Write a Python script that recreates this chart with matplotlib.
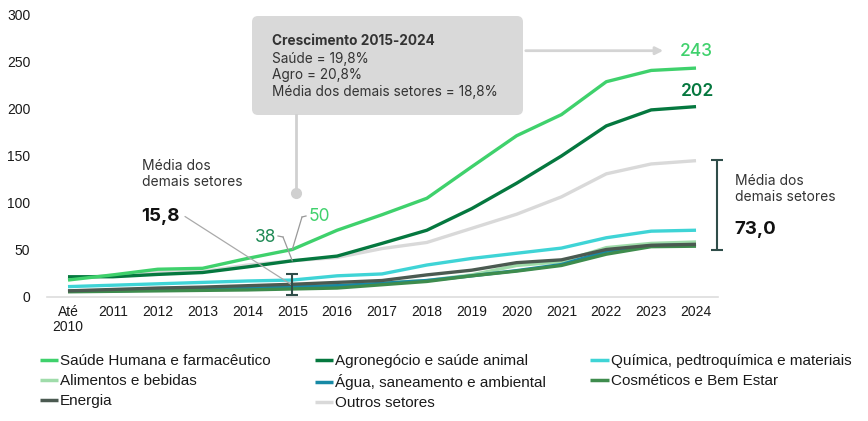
import matplotlib
matplotlib.use("Agg")
import matplotlib.pyplot as plt
from matplotlib.patches import FancyBboxPatch, FancyArrowPatch
from matplotlib.lines import Line2D

# ---------------- data ----------------
years = ["Até\n2010", "2011", "2012", "2013", "2014", "2015", "2016", "2017",
         "2018", "2019", "2020", "2021", "2022", "2023", "2024"]

saude = [17.5, 23, 29, 30, 40.5, 50, 70.5, 87, 104.5, 138, 171, 193.5, 228.5, 240.5, 243]
agro = [21, 21, 23.5, 25.5, 31.5, 38, 43, 56.5, 70.5, 93.5, 120.5, 149.5, 181.5, 198.5, 202]
quimica = [10.5, 12, 13.5, 15, 16.5, 17.5, 22, 24, 33.5, 40.5, 46, 51.5, 62.5, 69.5, 70.5]
alimentos = [6, 6.5, 7, 7.5, 8.5, 10, 12, 14.5, 17, 23, 33, 37, 52, 56.5, 58]
agua = [5.5, 6, 7, 7.5, 8.5, 10.5, 11.5, 14, 17, 22, 27.5, 34, 48, 54, 55]
cosmeticos = [5, 5.5, 6, 6.5, 7, 8, 9, 12.5, 16, 22, 27, 33, 45, 53, 53.5]
energia = [6, 7.5, 9, 10, 11.5, 13, 15, 17, 23, 28, 36, 39, 50, 54.5, 55.5]
outros = [19.5, 22.5, 26, 26.5, 33.5, 38, 41.5, 51, 57.5, 72.5, 87.5, 106, 130.5, 141, 144.5]

labels = ["Saúde Humana e farmacêutico", "Agronegócio e saúde animal",
          "Química, pedtroquímica e materiais", "Alimentos e bebidas",
          "Água, saneamento e ambiental", "Cosméticos e Bem Estar",
          "Energia", "Outros setores"]

range_2015 = [2, 24]      # faixa dos demais setores em 2015
range_2024 = [50, 145]    # faixa dos demais setores em 2024
media_2015 = "15,8"
media_2024 = "73,0"
saude_2015, agro_2015 = 50, 38
saude_2024, agro_2024 = 243, 202

box_lines = ["Saúde = 19,8%", "Agro = 20,8%", "Média dos demais setores = 18,8%"]

# ---------------- style ----------------
C_SAUDE = "#3fd16c"
C_AGRO = "#05783f"
C_QUIM = "#3fd4d6"
C_ALIM = "#9fdcaa"
C_AGUA = "#1789a5"
C_COSM = "#3e8c4d"
C_ENER = "#4b5a51"
C_OUTR = "#d9d9d9"
C_ERR = "#2f4d49"
TXT = "#333333"

plt.rcParams["font.family"] = ["Liberation Sans", "DejaVu Sans"]

fig = plt.figure(figsize=(8.68, 4.21), dpi=100)
ax = fig.add_axes([47 / 868, 1 - 296.5 / 421, 671 / 868, 282 / 421])

x = list(range(len(years)))
series = {
    "Outros setores": (outros, C_OUTR),
    "Alimentos e bebidas": (alimentos, C_ALIM),
    "Água, saneamento e ambiental": (agua, C_AGUA),
    "Cosméticos e Bem Estar": (cosmeticos, C_COSM),
    "Energia": (energia, C_ENER),
    "Química, pedtroquímica e materiais": (quimica, C_QUIM),
    "Agronegócio e saúde animal": (agro, C_AGRO),
    "Saúde Humana e farmacêutico": (saude, C_SAUDE),
}
handles = {}
for name, (vals, col) in series.items():
    (h,) = ax.plot(x, vals, color=col, lw=2.4, solid_capstyle="butt", label=name)
    handles[name] = h

ax.set_xlim(-0.468, 14.49)
ax.set_ylim(0, 300)
ax.set_yticks([0, 50, 100, 150, 200, 250, 300])
ax.set_xticks(x)
ax.set_xticklabels(years, linespacing=1.15)
ax.tick_params(axis="both", length=0, labelsize=10, labelcolor="#1a1a1a")
ax.tick_params(axis="y", pad=12)
ax.tick_params(axis="x", pad=6)
for s in ["top", "right", "left"]:
    ax.spines[s].set_visible(False)
ax.spines["bottom"].set_color("#dddddd")
ax.spines["bottom"].set_linewidth(1.2)

# error bars (ranges)
for xe, rng in [(5, range_2015), (14.47, range_2024)]:
    ax.errorbar([xe], [rng[0]], yerr=[[0], [rng[1] - rng[0]]], fmt="none",
                ecolor=C_ERR, elinewidth=1.5, capsize=4.3, capthick=1.5,
                clip_on=False, zorder=6)

# ------------- annotations (pixel helpers) -------------
tr = fig.dpi_scale_trans
def P(px, py):
    return (px / 100, (421 - py) / 100)

INTER = ["Inter", "DejaVu Sans"]

# gray box
box = FancyBboxPatch(P(252, 115), 271 / 100, 99 / 100,
                     boxstyle="round,pad=0,rounding_size=0.06",
                     transform=tr, facecolor="#d9d9d9", edgecolor="none", zorder=1)
fig.patches.append(box)
fig.text(*P(272, 41), "Crescimento 2015-2024", transform=tr, fontsize=9.8,
         fontweight="bold", color=TXT, va="center", ha="left", family=INTER)
for i, t in enumerate(box_lines):
    fig.text(*P(272, 58.5 + 16.8 * i), t, transform=tr, fontsize=9.8,
             color=TXT, va="center", ha="left", family=INTER)

# arrow from box
arr = FancyArrowPatch(P(523, 50.7), P(666, 50.7), transform=tr,
                      arrowstyle="-|>", mutation_scale=11, color="#d4d4d4", lw=2)
fig.patches.append(arr)
fig.text(*P(680, 52), f"{saude_2024}", transform=tr, fontsize=12.5,
         color=C_SAUDE, va="center", ha="left", family=INTER, fontweight="medium")
fig.text(*P(681, 91), f"{agro_2024}", transform=tr, fontsize=12.5,
         color=C_AGRO, va="center", ha="left", family=INTER, fontweight="semibold")

# vertical connector with dot
fig.lines.append(Line2D([296 / 100, 296 / 100], [(421 - 115) / 100, (421 - 193) / 100],
                        transform=tr, color="#d0d0d0", lw=2))
fig.lines.append(Line2D([296 / 100], [(421 - 193) / 100], transform=tr,
                        marker="o", ms=7, color="#d0d0d0", lw=0))

# left "Média dos demais setores"
fig.text(*P(142, 174), "Média dos\ndemais setores", transform=tr, fontsize=10,
         color=TXT, va="center", ha="left", family=INTER, linespacing=1.25)
fig.text(*P(141, 216), media_2015, transform=tr, fontsize=13.5,
         color="#111111", va="center", ha="left", family=INTER, fontweight="bold")
ax.annotate("", xy=(5, 12), xycoords="data", xytext=P(185, 216.5),
            textcoords=tr, arrowprops=dict(arrowstyle="-", color="#aaaaaa", lw=0.9,
                                           shrinkA=0, shrinkB=0))

# 38 and 50 labels
fig.text(*P(266, 237), f"{agro_2015}", transform=tr, fontsize=12.5,
         color="#1f8a55", va="center", ha="center", family=INTER)
fig.text(*P(309, 216), f"{saude_2015}", transform=tr, fontsize=12.5,
         color=C_SAUDE, va="center", ha="left", family=INTER)
fig.lines.append(Line2D([278 / 100, 283 / 100], [(421 - 236) / 100, (421 - 237) / 100],
                        transform=tr, color="#999999", lw=0.9))
ax.annotate("", xy=(5, agro_2015), xycoords="data", xytext=P(283, 237),
            textcoords=tr, arrowprops=dict(arrowstyle="-", color="#999999", lw=0.9,
                                           shrinkA=0, shrinkB=0))
fig.lines.append(Line2D([306 / 100, 302 / 100], [(421 - 216) / 100, (421 - 217) / 100],
                        transform=tr, color="#999999", lw=0.9))
ax.annotate("", xy=(5, saude_2015), xycoords="data", xytext=P(302, 217),
            textcoords=tr, arrowprops=dict(arrowstyle="-", color="#999999", lw=0.9,
                                           shrinkA=0, shrinkB=0))

# right "Média dos demais setores"
fig.text(*P(735, 189), "Média dos\ndemais setores", transform=tr, fontsize=10,
         color=TXT, va="center", ha="left", family=INTER, linespacing=1.25)
fig.text(*P(734, 229), media_2024, transform=tr, fontsize=13.5,
         color="#111111", va="center", ha="left", family=INTER, fontweight="bold")

# legend (row-major order in reference -> column-major for matplotlib)
order = [labels[0], labels[3], labels[6], labels[1], labels[4], labels[7],
         labels[2], labels[5]]
leg = fig.legend([handles[n] for n in order], order, ncol=3, frameon=False,
                 loc="upper left", bbox_to_anchor=(40 / 868, 1 - 354 / 421),
                 borderaxespad=0, borderpad=0, fontsize=11, handlelength=1.2,
                 handletextpad=0.12, columnspacing=2.9, labelspacing=0.4)
for t in leg.get_texts():
    t.set_color("#1a1a1a")
for l in leg.get_lines():
    l.set_linewidth(2.5)

fig.savefig("out.png", dpi=100)
